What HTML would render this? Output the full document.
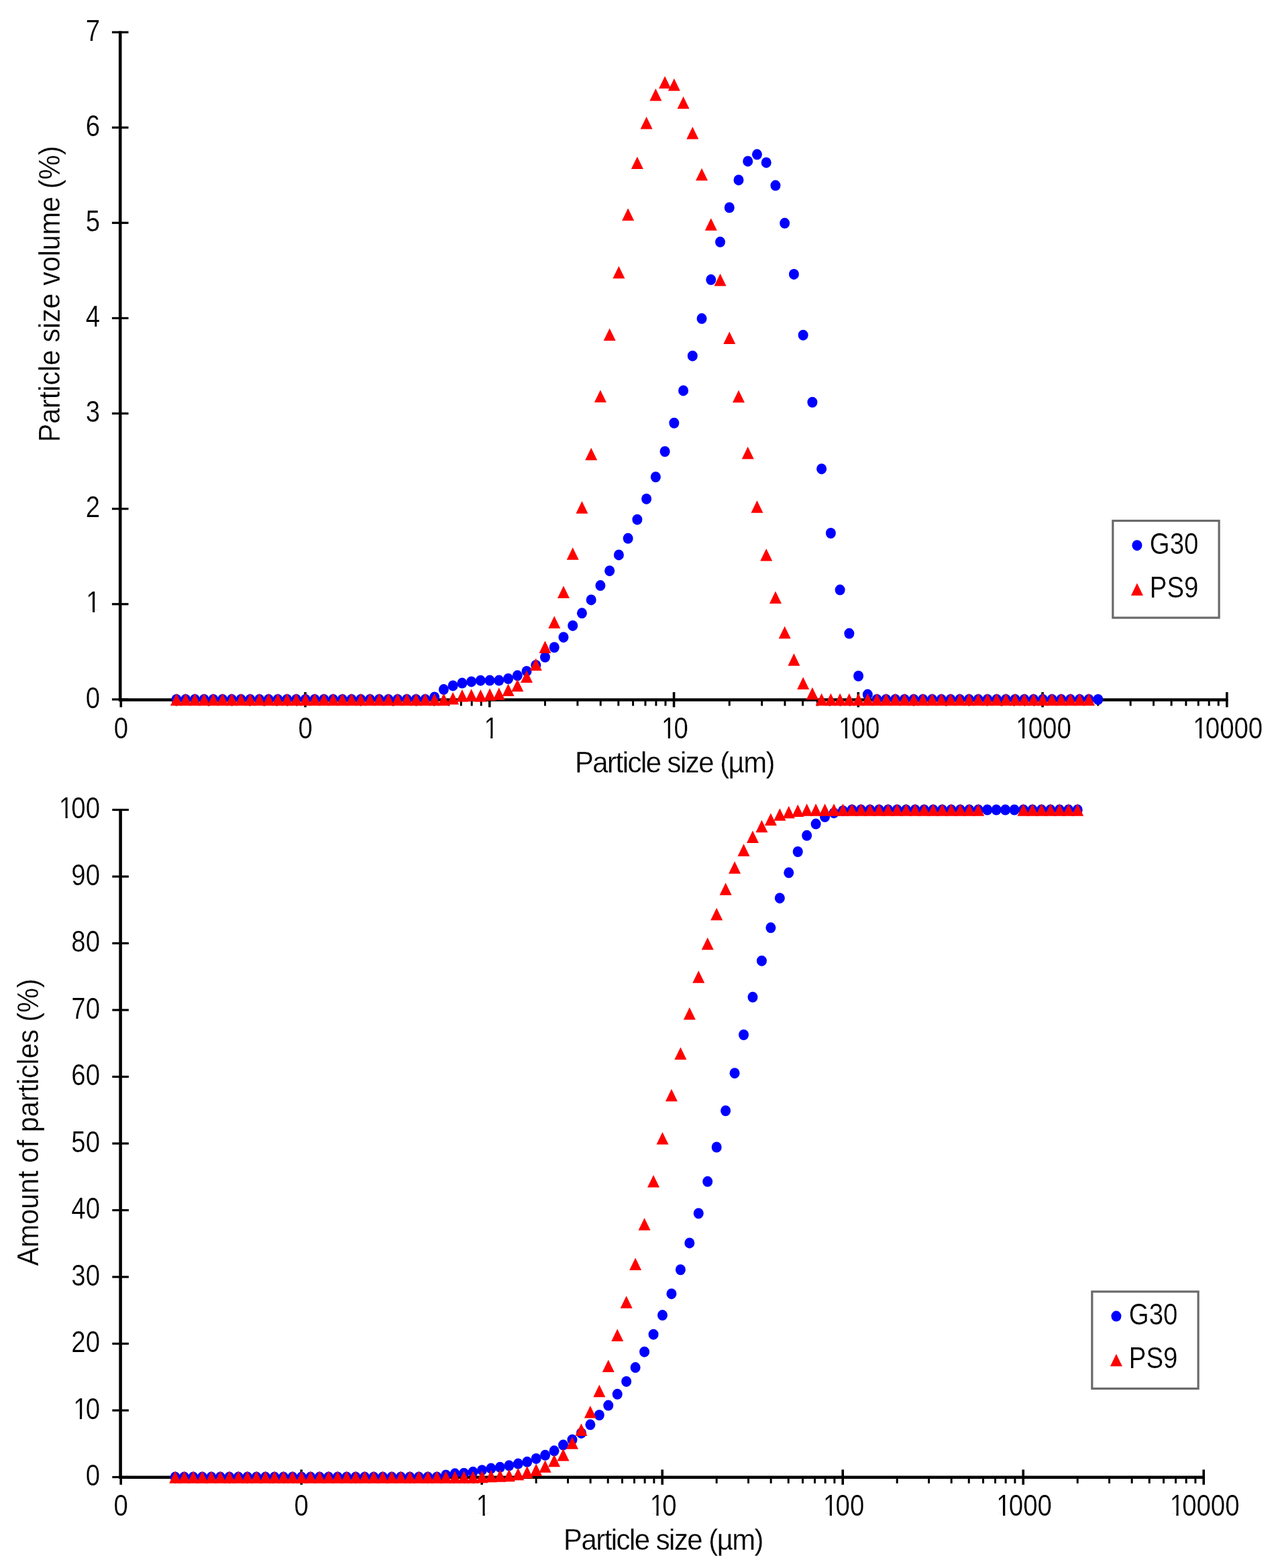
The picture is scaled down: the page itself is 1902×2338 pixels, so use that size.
<!DOCTYPE html><html><head><meta charset="utf-8"><style>html,body{margin:0;padding:0;background:#fff}svg{display:block}</style></head><body>
<svg width="1902" height="2338" viewBox="0 0 1902 2338">
<rect width="1902" height="2338" fill="#fff"/>
<g stroke="#000" fill="none">
<line x1="179.2" y1="46.56" x2="179.2" y2="1045.80" stroke-width="4.6"/>
<line x1="176.89999999999998" y1="1043.5" x2="1830.30" y2="1043.5" stroke-width="4.6"/>
<line x1="166.90" y1="1042.90" x2="191.50" y2="1042.90" stroke-width="3.2"/>
<line x1="166.90" y1="900.78" x2="191.50" y2="900.78" stroke-width="3.2"/>
<line x1="166.90" y1="758.66" x2="191.50" y2="758.66" stroke-width="3.2"/>
<line x1="166.90" y1="616.54" x2="191.50" y2="616.54" stroke-width="3.2"/>
<line x1="166.90" y1="474.42" x2="191.50" y2="474.42" stroke-width="3.2"/>
<line x1="166.90" y1="332.30" x2="191.50" y2="332.30" stroke-width="3.2"/>
<line x1="166.90" y1="190.18" x2="191.50" y2="190.18" stroke-width="3.2"/>
<line x1="166.90" y1="48.06" x2="191.50" y2="48.06" stroke-width="3.2"/>
<line x1="180.30" y1="1043.5" x2="180.30" y2="1054.5" stroke-width="3.6"/>
<line x1="263.01" y1="1043.5" x2="263.01" y2="1052.5" stroke-width="3"/>
<line x1="311.39" y1="1043.5" x2="311.39" y2="1052.5" stroke-width="3"/>
<line x1="345.72" y1="1043.5" x2="345.72" y2="1052.5" stroke-width="3"/>
<line x1="372.34" y1="1043.5" x2="372.34" y2="1052.5" stroke-width="3"/>
<line x1="394.10" y1="1043.5" x2="394.10" y2="1052.5" stroke-width="3"/>
<line x1="412.49" y1="1043.5" x2="412.49" y2="1052.5" stroke-width="3"/>
<line x1="428.42" y1="1043.5" x2="428.42" y2="1052.5" stroke-width="3"/>
<line x1="442.48" y1="1043.5" x2="442.48" y2="1052.5" stroke-width="3"/>
<line x1="455.05" y1="1032.0" x2="455.05" y2="1054.5" stroke-width="3.6"/>
<line x1="537.76" y1="1043.5" x2="537.76" y2="1052.5" stroke-width="3"/>
<line x1="586.14" y1="1043.5" x2="586.14" y2="1052.5" stroke-width="3"/>
<line x1="620.47" y1="1043.5" x2="620.47" y2="1052.5" stroke-width="3"/>
<line x1="647.09" y1="1043.5" x2="647.09" y2="1052.5" stroke-width="3"/>
<line x1="668.85" y1="1043.5" x2="668.85" y2="1052.5" stroke-width="3"/>
<line x1="687.24" y1="1043.5" x2="687.24" y2="1052.5" stroke-width="3"/>
<line x1="703.17" y1="1043.5" x2="703.17" y2="1052.5" stroke-width="3"/>
<line x1="717.23" y1="1043.5" x2="717.23" y2="1052.5" stroke-width="3"/>
<line x1="729.80" y1="1032.0" x2="729.80" y2="1054.5" stroke-width="3.6"/>
<line x1="812.51" y1="1043.5" x2="812.51" y2="1052.5" stroke-width="3"/>
<line x1="860.89" y1="1043.5" x2="860.89" y2="1052.5" stroke-width="3"/>
<line x1="895.22" y1="1043.5" x2="895.22" y2="1052.5" stroke-width="3"/>
<line x1="921.84" y1="1043.5" x2="921.84" y2="1052.5" stroke-width="3"/>
<line x1="943.60" y1="1043.5" x2="943.60" y2="1052.5" stroke-width="3"/>
<line x1="961.99" y1="1043.5" x2="961.99" y2="1052.5" stroke-width="3"/>
<line x1="977.92" y1="1043.5" x2="977.92" y2="1052.5" stroke-width="3"/>
<line x1="991.98" y1="1043.5" x2="991.98" y2="1052.5" stroke-width="3"/>
<line x1="1004.55" y1="1032.0" x2="1004.55" y2="1054.5" stroke-width="3.6"/>
<line x1="1087.26" y1="1043.5" x2="1087.26" y2="1052.5" stroke-width="3"/>
<line x1="1135.64" y1="1043.5" x2="1135.64" y2="1052.5" stroke-width="3"/>
<line x1="1169.97" y1="1043.5" x2="1169.97" y2="1052.5" stroke-width="3"/>
<line x1="1196.59" y1="1043.5" x2="1196.59" y2="1052.5" stroke-width="3"/>
<line x1="1218.35" y1="1043.5" x2="1218.35" y2="1052.5" stroke-width="3"/>
<line x1="1236.74" y1="1043.5" x2="1236.74" y2="1052.5" stroke-width="3"/>
<line x1="1252.67" y1="1043.5" x2="1252.67" y2="1052.5" stroke-width="3"/>
<line x1="1266.73" y1="1043.5" x2="1266.73" y2="1052.5" stroke-width="3"/>
<line x1="1279.30" y1="1032.0" x2="1279.30" y2="1054.5" stroke-width="3.6"/>
<line x1="1362.01" y1="1043.5" x2="1362.01" y2="1052.5" stroke-width="3"/>
<line x1="1410.39" y1="1043.5" x2="1410.39" y2="1052.5" stroke-width="3"/>
<line x1="1444.72" y1="1043.5" x2="1444.72" y2="1052.5" stroke-width="3"/>
<line x1="1471.34" y1="1043.5" x2="1471.34" y2="1052.5" stroke-width="3"/>
<line x1="1493.10" y1="1043.5" x2="1493.10" y2="1052.5" stroke-width="3"/>
<line x1="1511.49" y1="1043.5" x2="1511.49" y2="1052.5" stroke-width="3"/>
<line x1="1527.42" y1="1043.5" x2="1527.42" y2="1052.5" stroke-width="3"/>
<line x1="1541.48" y1="1043.5" x2="1541.48" y2="1052.5" stroke-width="3"/>
<line x1="1554.05" y1="1032.0" x2="1554.05" y2="1054.5" stroke-width="3.6"/>
<line x1="1636.76" y1="1043.5" x2="1636.76" y2="1052.5" stroke-width="3"/>
<line x1="1685.14" y1="1043.5" x2="1685.14" y2="1052.5" stroke-width="3"/>
<line x1="1719.47" y1="1043.5" x2="1719.47" y2="1052.5" stroke-width="3"/>
<line x1="1746.09" y1="1043.5" x2="1746.09" y2="1052.5" stroke-width="3"/>
<line x1="1767.85" y1="1043.5" x2="1767.85" y2="1052.5" stroke-width="3"/>
<line x1="1786.24" y1="1043.5" x2="1786.24" y2="1052.5" stroke-width="3"/>
<line x1="1802.17" y1="1043.5" x2="1802.17" y2="1052.5" stroke-width="3"/>
<line x1="1816.23" y1="1043.5" x2="1816.23" y2="1052.5" stroke-width="3"/>
<line x1="1828.80" y1="1032.0" x2="1828.80" y2="1054.5" stroke-width="3.6"/>
</g>
<g fill="#000" font-family="'Liberation Sans', Arial, sans-serif" stroke="#fff" stroke-width="0.25">
<g transform="translate(149.00,1055.50) scale(0.882,1)">
<text x="0.00" text-anchor="end" font-size="43.5">0</text>
</g>
<g transform="translate(149.00,913.38) scale(0.882,1)">
<text x="0.00" text-anchor="end" font-size="43.5" dx="0.68">1</text>
<rect x="-21.20" y="-3.95" width="8.75" height="5.45" fill="#fff" stroke="none"/>
<rect x="-8.85" y="-3.95" width="8.41" height="5.45" fill="#fff" stroke="none"/>
</g>
<g transform="translate(149.00,771.26) scale(0.882,1)">
<text x="0.00" text-anchor="end" font-size="43.5">2</text>
</g>
<g transform="translate(149.00,629.14) scale(0.882,1)">
<text x="0.00" text-anchor="end" font-size="43.5">3</text>
</g>
<g transform="translate(149.00,487.02) scale(0.882,1)">
<text x="0.00" text-anchor="end" font-size="43.5">4</text>
</g>
<g transform="translate(149.00,344.90) scale(0.882,1)">
<text x="0.00" text-anchor="end" font-size="43.5">5</text>
</g>
<g transform="translate(149.00,202.78) scale(0.882,1)">
<text x="0.00" text-anchor="end" font-size="43.5">6</text>
</g>
<g transform="translate(149.00,60.66) scale(0.882,1)">
<text x="0.00" text-anchor="end" font-size="43.5">7</text>
</g>
<g transform="translate(180.30,1101.10) scale(0.882,1)">
<text x="0.00" text-anchor="middle" font-size="43.5">0</text>
</g>
<g transform="translate(455.05,1101.10) scale(0.882,1)">
<text x="0.00" text-anchor="middle" font-size="43.5">0</text>
</g>
<g transform="translate(729.80,1101.10) scale(0.882,1)">
<text x="0.00" text-anchor="middle" font-size="43.5" dx="2.61">1</text>
<rect x="-7.18" y="-3.95" width="8.75" height="5.45" fill="#fff" stroke="none"/>
<rect x="5.17" y="-3.95" width="8.41" height="5.45" fill="#fff" stroke="none"/>
</g>
<g transform="translate(1004.55,1101.10) scale(0.882,1)">
<text x="-1.59" text-anchor="middle" font-size="43.5" dx="3.17 -3.17">10</text>
<rect x="-18.70" y="-3.95" width="8.75" height="5.45" fill="#fff" stroke="none"/>
<rect x="-6.36" y="-3.95" width="8.41" height="5.45" fill="#fff" stroke="none"/>
</g>
<g transform="translate(1279.30,1101.10) scale(0.882,1)">
<text x="-1.59" text-anchor="middle" font-size="43.5" dx="3.17 -3.17">100</text>
<rect x="-30.80" y="-3.95" width="8.75" height="5.45" fill="#fff" stroke="none"/>
<rect x="-18.46" y="-3.95" width="8.41" height="5.45" fill="#fff" stroke="none"/>
</g>
<g transform="translate(1554.05,1101.10) scale(0.882,1)">
<text x="-1.59" text-anchor="middle" font-size="43.5" dx="3.17 -3.17">1000</text>
<rect x="-42.90" y="-3.95" width="8.75" height="5.45" fill="#fff" stroke="none"/>
<rect x="-30.55" y="-3.95" width="8.41" height="5.45" fill="#fff" stroke="none"/>
</g>
<g transform="translate(1828.80,1101.10) scale(0.882,1)">
<text x="-1.59" text-anchor="middle" font-size="43.5" dx="3.17 -3.17">10000</text>
<rect x="-54.99" y="-3.95" width="8.75" height="5.45" fill="#fff" stroke="none"/>
<rect x="-42.65" y="-3.95" width="8.41" height="5.45" fill="#fff" stroke="none"/>
</g>
<g transform="translate(1005.45,1151.80) scale(0.962,1)">
<text x="0.00" text-anchor="middle" font-size="43.5" letter-spacing="-1.556">Particle size (µm)</text>
</g>
<text transform="translate(89.20,438.40) rotate(-90) scale(0.947,1)" text-anchor="middle" font-size="43.5">Particle size volume (%)</text>
</g>
<g fill="#0000ff">
<ellipse cx="263.01" cy="1043.00" rx="7.5" ry="8.0"/>
<ellipse cx="276.75" cy="1043.00" rx="7.5" ry="8.0"/>
<ellipse cx="290.48" cy="1043.00" rx="7.5" ry="8.0"/>
<ellipse cx="304.22" cy="1043.00" rx="7.5" ry="8.0"/>
<ellipse cx="317.96" cy="1043.00" rx="7.5" ry="8.0"/>
<ellipse cx="331.70" cy="1043.00" rx="7.5" ry="8.0"/>
<ellipse cx="345.43" cy="1043.00" rx="7.5" ry="8.0"/>
<ellipse cx="359.17" cy="1043.00" rx="7.5" ry="8.0"/>
<ellipse cx="372.91" cy="1043.00" rx="7.5" ry="8.0"/>
<ellipse cx="386.65" cy="1043.00" rx="7.5" ry="8.0"/>
<ellipse cx="400.38" cy="1043.00" rx="7.5" ry="8.0"/>
<ellipse cx="414.12" cy="1043.00" rx="7.5" ry="8.0"/>
<ellipse cx="427.86" cy="1043.00" rx="7.5" ry="8.0"/>
<ellipse cx="441.60" cy="1043.00" rx="7.5" ry="8.0"/>
<ellipse cx="455.33" cy="1043.00" rx="7.5" ry="8.0"/>
<ellipse cx="469.07" cy="1043.00" rx="7.5" ry="8.0"/>
<ellipse cx="482.81" cy="1043.00" rx="7.5" ry="8.0"/>
<ellipse cx="496.55" cy="1043.00" rx="7.5" ry="8.0"/>
<ellipse cx="510.28" cy="1043.00" rx="7.5" ry="8.0"/>
<ellipse cx="524.02" cy="1043.00" rx="7.5" ry="8.0"/>
<ellipse cx="537.76" cy="1043.00" rx="7.5" ry="8.0"/>
<ellipse cx="551.50" cy="1043.00" rx="7.5" ry="8.0"/>
<ellipse cx="565.23" cy="1043.00" rx="7.5" ry="8.0"/>
<ellipse cx="578.97" cy="1043.00" rx="7.5" ry="8.0"/>
<ellipse cx="592.71" cy="1043.00" rx="7.5" ry="8.0"/>
<ellipse cx="606.45" cy="1043.00" rx="7.5" ry="8.0"/>
<ellipse cx="620.18" cy="1043.00" rx="7.5" ry="8.0"/>
<ellipse cx="633.92" cy="1043.00" rx="7.5" ry="8.0"/>
<ellipse cx="647.66" cy="1039.44" rx="7.5" ry="8.0"/>
<ellipse cx="661.40" cy="1028.07" rx="7.5" ry="8.0"/>
<ellipse cx="675.13" cy="1022.38" rx="7.5" ry="8.0"/>
<ellipse cx="688.87" cy="1018.54" rx="7.5" ry="8.0"/>
<ellipse cx="702.61" cy="1016.41" rx="7.5" ry="8.0"/>
<ellipse cx="716.35" cy="1014.70" rx="7.5" ry="8.0"/>
<ellipse cx="730.08" cy="1014.56" rx="7.5" ry="8.0"/>
<ellipse cx="743.82" cy="1014.56" rx="7.5" ry="8.0"/>
<ellipse cx="757.56" cy="1012.00" rx="7.5" ry="8.0"/>
<ellipse cx="771.30" cy="1007.31" rx="7.5" ry="8.0"/>
<ellipse cx="785.03" cy="1000.91" rx="7.5" ry="8.0"/>
<ellipse cx="798.77" cy="991.95" rx="7.5" ry="8.0"/>
<ellipse cx="812.51" cy="979.86" rx="7.5" ry="8.0"/>
<ellipse cx="826.25" cy="965.22" rx="7.5" ry="8.0"/>
<ellipse cx="839.98" cy="950.14" rx="7.5" ry="8.0"/>
<ellipse cx="853.72" cy="932.94" rx="7.5" ry="8.0"/>
<ellipse cx="867.46" cy="914.31" rx="7.5" ry="8.0"/>
<ellipse cx="881.20" cy="894.40" rx="7.5" ry="8.0"/>
<ellipse cx="894.93" cy="873.07" rx="7.5" ry="8.0"/>
<ellipse cx="908.67" cy="851.17" rx="7.5" ry="8.0"/>
<ellipse cx="922.41" cy="827.42" rx="7.5" ry="8.0"/>
<ellipse cx="936.15" cy="802.82" rx="7.5" ry="8.0"/>
<ellipse cx="949.88" cy="774.67" rx="7.5" ry="8.0"/>
<ellipse cx="963.62" cy="743.95" rx="7.5" ry="8.0"/>
<ellipse cx="977.36" cy="711.25" rx="7.5" ry="8.0"/>
<ellipse cx="991.10" cy="673.28" rx="7.5" ry="8.0"/>
<ellipse cx="1004.83" cy="630.76" rx="7.5" ry="8.0"/>
<ellipse cx="1018.57" cy="582.41" rx="7.5" ry="8.0"/>
<ellipse cx="1032.31" cy="530.65" rx="7.5" ry="8.0"/>
<ellipse cx="1046.05" cy="475.05" rx="7.5" ry="8.0"/>
<ellipse cx="1059.78" cy="417.04" rx="7.5" ry="8.0"/>
<ellipse cx="1073.52" cy="360.87" rx="7.5" ry="8.0"/>
<ellipse cx="1087.26" cy="309.53" rx="7.5" ry="8.0"/>
<ellipse cx="1101.00" cy="268.44" rx="7.5" ry="8.0"/>
<ellipse cx="1114.73" cy="240.42" rx="7.5" ry="8.0"/>
<ellipse cx="1128.47" cy="230.33" rx="7.5" ry="8.0"/>
<ellipse cx="1142.21" cy="242.41" rx="7.5" ry="8.0"/>
<ellipse cx="1155.95" cy="276.54" rx="7.5" ry="8.0"/>
<ellipse cx="1169.68" cy="332.85" rx="7.5" ry="8.0"/>
<ellipse cx="1183.42" cy="408.93" rx="7.5" ry="8.0"/>
<ellipse cx="1197.16" cy="499.65" rx="7.5" ry="8.0"/>
<ellipse cx="1210.90" cy="599.76" rx="7.5" ry="8.0"/>
<ellipse cx="1224.63" cy="699.16" rx="7.5" ry="8.0"/>
<ellipse cx="1238.37" cy="795.00" rx="7.5" ry="8.0"/>
<ellipse cx="1252.11" cy="879.61" rx="7.5" ry="8.0"/>
<ellipse cx="1265.85" cy="944.60" rx="7.5" ry="8.0"/>
<ellipse cx="1279.58" cy="1008.02" rx="7.5" ry="8.0"/>
<ellipse cx="1293.32" cy="1035.61" rx="7.5" ry="8.0"/>
<ellipse cx="1307.06" cy="1043.00" rx="7.5" ry="8.0"/>
<ellipse cx="1320.80" cy="1043.00" rx="7.5" ry="8.0"/>
<ellipse cx="1334.53" cy="1043.00" rx="7.5" ry="8.0"/>
<ellipse cx="1348.27" cy="1043.00" rx="7.5" ry="8.0"/>
<ellipse cx="1362.01" cy="1043.00" rx="7.5" ry="8.0"/>
<ellipse cx="1375.75" cy="1043.00" rx="7.5" ry="8.0"/>
<ellipse cx="1389.48" cy="1043.00" rx="7.5" ry="8.0"/>
<ellipse cx="1403.22" cy="1043.00" rx="7.5" ry="8.0"/>
<ellipse cx="1416.96" cy="1043.00" rx="7.5" ry="8.0"/>
<ellipse cx="1430.70" cy="1043.00" rx="7.5" ry="8.0"/>
<ellipse cx="1444.43" cy="1043.00" rx="7.5" ry="8.0"/>
<ellipse cx="1458.17" cy="1043.00" rx="7.5" ry="8.0"/>
<ellipse cx="1471.91" cy="1043.00" rx="7.5" ry="8.0"/>
<ellipse cx="1485.65" cy="1043.00" rx="7.5" ry="8.0"/>
<ellipse cx="1499.38" cy="1043.00" rx="7.5" ry="8.0"/>
<ellipse cx="1513.12" cy="1043.00" rx="7.5" ry="8.0"/>
<ellipse cx="1526.86" cy="1043.00" rx="7.5" ry="8.0"/>
<ellipse cx="1540.60" cy="1043.00" rx="7.5" ry="8.0"/>
<ellipse cx="1554.33" cy="1043.00" rx="7.5" ry="8.0"/>
<ellipse cx="1568.07" cy="1043.00" rx="7.5" ry="8.0"/>
<ellipse cx="1581.81" cy="1043.00" rx="7.5" ry="8.0"/>
<ellipse cx="1595.55" cy="1043.00" rx="7.5" ry="8.0"/>
<ellipse cx="1609.28" cy="1043.00" rx="7.5" ry="8.0"/>
<ellipse cx="1623.02" cy="1043.00" rx="7.5" ry="8.0"/>
<ellipse cx="1636.76" cy="1043.00" rx="7.5" ry="8.0"/>
</g>
<g fill="#ff0000">
<path d="M254.01 1052.25L263.01 1033.75L272.01 1052.25Z"/>
<path d="M267.75 1052.25L276.75 1033.75L285.75 1052.25Z"/>
<path d="M281.48 1052.25L290.48 1033.75L299.48 1052.25Z"/>
<path d="M295.22 1052.25L304.22 1033.75L313.22 1052.25Z"/>
<path d="M308.96 1052.25L317.96 1033.75L326.96 1052.25Z"/>
<path d="M322.70 1052.25L331.70 1033.75L340.70 1052.25Z"/>
<path d="M336.43 1052.25L345.43 1033.75L354.43 1052.25Z"/>
<path d="M350.17 1052.25L359.17 1033.75L368.17 1052.25Z"/>
<path d="M363.91 1052.25L372.91 1033.75L381.91 1052.25Z"/>
<path d="M377.65 1052.25L386.65 1033.75L395.65 1052.25Z"/>
<path d="M391.38 1052.25L400.38 1033.75L409.38 1052.25Z"/>
<path d="M405.12 1052.25L414.12 1033.75L423.12 1052.25Z"/>
<path d="M418.86 1052.25L427.86 1033.75L436.86 1052.25Z"/>
<path d="M432.60 1052.25L441.60 1033.75L450.60 1052.25Z"/>
<path d="M446.33 1052.25L455.33 1033.75L464.33 1052.25Z"/>
<path d="M460.07 1052.25L469.07 1033.75L478.07 1052.25Z"/>
<path d="M473.81 1052.25L482.81 1033.75L491.81 1052.25Z"/>
<path d="M487.55 1052.25L496.55 1033.75L505.55 1052.25Z"/>
<path d="M501.28 1052.25L510.28 1033.75L519.28 1052.25Z"/>
<path d="M515.02 1052.25L524.02 1033.75L533.02 1052.25Z"/>
<path d="M528.76 1052.25L537.76 1033.75L546.76 1052.25Z"/>
<path d="M542.50 1052.25L551.50 1033.75L560.50 1052.25Z"/>
<path d="M556.23 1052.25L565.23 1033.75L574.23 1052.25Z"/>
<path d="M569.97 1052.25L578.97 1033.75L587.97 1052.25Z"/>
<path d="M583.71 1052.25L592.71 1033.75L601.71 1052.25Z"/>
<path d="M597.45 1052.25L606.45 1033.75L615.45 1052.25Z"/>
<path d="M611.18 1052.25L620.18 1033.75L629.18 1052.25Z"/>
<path d="M624.92 1052.25L633.92 1033.75L642.92 1052.25Z"/>
<path d="M638.66 1052.25L647.66 1033.75L656.66 1052.25Z"/>
<path d="M652.40 1052.25L661.40 1033.75L670.40 1052.25Z"/>
<path d="M666.13 1050.40L675.13 1031.90L684.13 1050.40Z"/>
<path d="M679.87 1046.56L688.87 1028.06L697.87 1046.56Z"/>
<path d="M693.61 1045.71L702.61 1027.21L711.61 1045.71Z"/>
<path d="M707.35 1046.56L716.35 1028.06L725.35 1046.56Z"/>
<path d="M721.08 1044.86L730.08 1026.36L739.08 1044.86Z"/>
<path d="M734.82 1043.72L743.82 1025.22L752.82 1043.72Z"/>
<path d="M748.56 1038.03L757.56 1019.53L766.56 1038.03Z"/>
<path d="M762.30 1031.35L771.30 1012.85L780.30 1031.35Z"/>
<path d="M776.03 1018.12L785.03 999.62L794.03 1018.12Z"/>
<path d="M789.77 999.92L798.77 981.42L807.77 999.92Z"/>
<path d="M803.51 974.04L812.51 955.54L821.51 974.04Z"/>
<path d="M817.25 937.07L826.25 918.57L835.25 937.07Z"/>
<path d="M830.98 891.99L839.98 873.49L848.98 891.99Z"/>
<path d="M844.72 834.83L853.72 816.33L862.72 834.83Z"/>
<path d="M858.46 765.72L867.46 747.22L876.46 765.72Z"/>
<path d="M872.20 686.23L881.20 667.73L890.20 686.23Z"/>
<path d="M885.93 599.91L894.93 581.41L903.93 599.91Z"/>
<path d="M899.67 507.91L908.67 489.41L917.67 507.91Z"/>
<path d="M913.41 415.34L922.41 396.84L931.41 415.34Z"/>
<path d="M927.15 329.02L936.15 310.52L945.15 329.02Z"/>
<path d="M940.88 252.09L949.88 233.59L958.88 252.09Z"/>
<path d="M954.62 192.51L963.62 174.01L972.62 192.51Z"/>
<path d="M968.36 150.56L977.36 132.06L986.36 150.56Z"/>
<path d="M982.10 131.93L991.10 113.43L1000.10 131.93Z"/>
<path d="M995.83 135.49L1004.83 116.99L1013.83 135.49Z"/>
<path d="M1009.57 162.36L1018.57 143.86L1027.57 162.36Z"/>
<path d="M1023.31 207.58L1032.31 189.08L1041.31 207.58Z"/>
<path d="M1037.05 269.30L1046.05 250.80L1055.05 269.30Z"/>
<path d="M1050.78 343.67L1059.78 325.17L1068.78 343.67Z"/>
<path d="M1064.52 426.57L1073.52 408.07L1082.52 426.57Z"/>
<path d="M1078.26 513.03L1087.26 494.53L1096.26 513.03Z"/>
<path d="M1092.00 600.34L1101.00 581.84L1110.00 600.34Z"/>
<path d="M1105.73 684.38L1114.73 665.88L1123.73 684.38Z"/>
<path d="M1119.47 764.72L1128.47 746.22L1137.47 764.72Z"/>
<path d="M1133.21 836.39L1142.21 817.89L1151.21 836.39Z"/>
<path d="M1146.95 899.95L1155.95 881.45L1164.95 899.95Z"/>
<path d="M1160.68 952.14L1169.68 933.64L1178.68 952.14Z"/>
<path d="M1174.42 992.81L1183.42 974.31L1192.42 992.81Z"/>
<path d="M1188.16 1027.93L1197.16 1009.43L1206.16 1027.93Z"/>
<path d="M1201.90 1043.29L1210.90 1024.79L1219.90 1043.29Z"/>
<path d="M1215.63 1052.25L1224.63 1033.75L1233.63 1052.25Z"/>
<path d="M1229.37 1052.25L1238.37 1033.75L1247.37 1052.25Z"/>
<path d="M1243.11 1052.25L1252.11 1033.75L1261.11 1052.25Z"/>
<path d="M1256.85 1052.25L1265.85 1033.75L1274.85 1052.25Z"/>
<path d="M1270.58 1052.25L1279.58 1033.75L1288.58 1052.25Z"/>
<path d="M1284.32 1052.25L1293.32 1033.75L1302.32 1052.25Z"/>
<path d="M1298.06 1052.25L1307.06 1033.75L1316.06 1052.25Z"/>
<path d="M1311.80 1052.25L1320.80 1033.75L1329.80 1052.25Z"/>
<path d="M1325.53 1052.25L1334.53 1033.75L1343.53 1052.25Z"/>
<path d="M1339.27 1052.25L1348.27 1033.75L1357.27 1052.25Z"/>
<path d="M1353.01 1052.25L1362.01 1033.75L1371.01 1052.25Z"/>
<path d="M1366.75 1052.25L1375.75 1033.75L1384.75 1052.25Z"/>
<path d="M1380.48 1052.25L1389.48 1033.75L1398.48 1052.25Z"/>
<path d="M1394.22 1052.25L1403.22 1033.75L1412.22 1052.25Z"/>
<path d="M1407.96 1052.25L1416.96 1033.75L1425.96 1052.25Z"/>
<path d="M1421.70 1052.25L1430.70 1033.75L1439.70 1052.25Z"/>
<path d="M1435.43 1052.25L1444.43 1033.75L1453.43 1052.25Z"/>
<path d="M1449.17 1052.25L1458.17 1033.75L1467.17 1052.25Z"/>
<path d="M1462.91 1052.25L1471.91 1033.75L1480.91 1052.25Z"/>
<path d="M1476.65 1052.25L1485.65 1033.75L1494.65 1052.25Z"/>
<path d="M1490.38 1052.25L1499.38 1033.75L1508.38 1052.25Z"/>
<path d="M1504.12 1052.25L1513.12 1033.75L1522.12 1052.25Z"/>
<path d="M1517.86 1052.25L1526.86 1033.75L1535.86 1052.25Z"/>
<path d="M1531.60 1052.25L1540.60 1033.75L1549.60 1052.25Z"/>
<path d="M1545.33 1052.25L1554.33 1033.75L1563.33 1052.25Z"/>
<path d="M1559.07 1052.25L1568.07 1033.75L1577.07 1052.25Z"/>
<path d="M1572.81 1052.25L1581.81 1033.75L1590.81 1052.25Z"/>
<path d="M1586.55 1052.25L1595.55 1033.75L1604.55 1052.25Z"/>
<path d="M1600.28 1052.25L1609.28 1033.75L1618.28 1052.25Z"/>
<path d="M1614.02 1052.25L1623.02 1033.75L1632.02 1052.25Z"/>
</g>
<rect x="1658.80" y="776.50" width="158.3" height="144.6" fill="#fff" stroke="#6a6a6a" stroke-width="3.2"/>
<ellipse cx="1694.90" cy="813.20" rx="7.5" ry="8.0" fill="#0000ff"/>
<path d="M1685.90 887.95L1694.90 869.45L1703.90 887.95Z" fill="#ff0000"/>
<g fill="#000" font-family="'Liberation Sans', Arial, sans-serif" stroke="#fff" stroke-width="0.25">
<g transform="translate(1713.80,825.50) scale(0.882,1)">
<text x="0.00" text-anchor="start" font-size="43.5">G30</text>
</g>
<g transform="translate(1713.80,890.70) scale(0.882,1)">
<text x="0.00" text-anchor="start" font-size="43.5">PS9</text>
</g>
</g>
<g stroke="#000" fill="none">
<line x1="179.6" y1="1206.00" x2="179.6" y2="2205.10" stroke-width="4.6"/>
<line x1="177.29999999999998" y1="2202.8" x2="1795.70" y2="2202.8" stroke-width="4.6"/>
<line x1="167.30" y1="2202.50" x2="191.90" y2="2202.50" stroke-width="3.2"/>
<line x1="167.30" y1="2103.00" x2="191.90" y2="2103.00" stroke-width="3.2"/>
<line x1="167.30" y1="2003.50" x2="191.90" y2="2003.50" stroke-width="3.2"/>
<line x1="167.30" y1="1904.00" x2="191.90" y2="1904.00" stroke-width="3.2"/>
<line x1="167.30" y1="1804.50" x2="191.90" y2="1804.50" stroke-width="3.2"/>
<line x1="167.30" y1="1705.00" x2="191.90" y2="1705.00" stroke-width="3.2"/>
<line x1="167.30" y1="1605.50" x2="191.90" y2="1605.50" stroke-width="3.2"/>
<line x1="167.30" y1="1506.00" x2="191.90" y2="1506.00" stroke-width="3.2"/>
<line x1="167.30" y1="1406.50" x2="191.90" y2="1406.50" stroke-width="3.2"/>
<line x1="167.30" y1="1307.00" x2="191.90" y2="1307.00" stroke-width="3.2"/>
<line x1="167.30" y1="1207.50" x2="191.90" y2="1207.50" stroke-width="3.2"/>
<line x1="180.20" y1="2202.8" x2="180.20" y2="2213.8" stroke-width="3.6"/>
<line x1="261.18" y1="2202.8" x2="261.18" y2="2211.8" stroke-width="3"/>
<line x1="308.55" y1="2202.8" x2="308.55" y2="2211.8" stroke-width="3"/>
<line x1="342.15" y1="2202.8" x2="342.15" y2="2211.8" stroke-width="3"/>
<line x1="368.22" y1="2202.8" x2="368.22" y2="2211.8" stroke-width="3"/>
<line x1="389.52" y1="2202.8" x2="389.52" y2="2211.8" stroke-width="3"/>
<line x1="407.53" y1="2202.8" x2="407.53" y2="2211.8" stroke-width="3"/>
<line x1="423.13" y1="2202.8" x2="423.13" y2="2211.8" stroke-width="3"/>
<line x1="436.89" y1="2202.8" x2="436.89" y2="2211.8" stroke-width="3"/>
<line x1="449.20" y1="2191.3" x2="449.20" y2="2213.8" stroke-width="3.6"/>
<line x1="530.18" y1="2202.8" x2="530.18" y2="2211.8" stroke-width="3"/>
<line x1="577.55" y1="2202.8" x2="577.55" y2="2211.8" stroke-width="3"/>
<line x1="611.15" y1="2202.8" x2="611.15" y2="2211.8" stroke-width="3"/>
<line x1="637.22" y1="2202.8" x2="637.22" y2="2211.8" stroke-width="3"/>
<line x1="658.52" y1="2202.8" x2="658.52" y2="2211.8" stroke-width="3"/>
<line x1="676.53" y1="2202.8" x2="676.53" y2="2211.8" stroke-width="3"/>
<line x1="692.13" y1="2202.8" x2="692.13" y2="2211.8" stroke-width="3"/>
<line x1="705.89" y1="2202.8" x2="705.89" y2="2211.8" stroke-width="3"/>
<line x1="718.20" y1="2191.3" x2="718.20" y2="2213.8" stroke-width="3.6"/>
<line x1="799.18" y1="2202.8" x2="799.18" y2="2211.8" stroke-width="3"/>
<line x1="846.55" y1="2202.8" x2="846.55" y2="2211.8" stroke-width="3"/>
<line x1="880.15" y1="2202.8" x2="880.15" y2="2211.8" stroke-width="3"/>
<line x1="906.22" y1="2202.8" x2="906.22" y2="2211.8" stroke-width="3"/>
<line x1="927.52" y1="2202.8" x2="927.52" y2="2211.8" stroke-width="3"/>
<line x1="945.53" y1="2202.8" x2="945.53" y2="2211.8" stroke-width="3"/>
<line x1="961.13" y1="2202.8" x2="961.13" y2="2211.8" stroke-width="3"/>
<line x1="974.89" y1="2202.8" x2="974.89" y2="2211.8" stroke-width="3"/>
<line x1="987.20" y1="2191.3" x2="987.20" y2="2213.8" stroke-width="3.6"/>
<line x1="1068.18" y1="2202.8" x2="1068.18" y2="2211.8" stroke-width="3"/>
<line x1="1115.55" y1="2202.8" x2="1115.55" y2="2211.8" stroke-width="3"/>
<line x1="1149.15" y1="2202.8" x2="1149.15" y2="2211.8" stroke-width="3"/>
<line x1="1175.22" y1="2202.8" x2="1175.22" y2="2211.8" stroke-width="3"/>
<line x1="1196.52" y1="2202.8" x2="1196.52" y2="2211.8" stroke-width="3"/>
<line x1="1214.53" y1="2202.8" x2="1214.53" y2="2211.8" stroke-width="3"/>
<line x1="1230.13" y1="2202.8" x2="1230.13" y2="2211.8" stroke-width="3"/>
<line x1="1243.89" y1="2202.8" x2="1243.89" y2="2211.8" stroke-width="3"/>
<line x1="1256.20" y1="2191.3" x2="1256.20" y2="2213.8" stroke-width="3.6"/>
<line x1="1337.18" y1="2202.8" x2="1337.18" y2="2211.8" stroke-width="3"/>
<line x1="1384.55" y1="2202.8" x2="1384.55" y2="2211.8" stroke-width="3"/>
<line x1="1418.15" y1="2202.8" x2="1418.15" y2="2211.8" stroke-width="3"/>
<line x1="1444.22" y1="2202.8" x2="1444.22" y2="2211.8" stroke-width="3"/>
<line x1="1465.52" y1="2202.8" x2="1465.52" y2="2211.8" stroke-width="3"/>
<line x1="1483.53" y1="2202.8" x2="1483.53" y2="2211.8" stroke-width="3"/>
<line x1="1499.13" y1="2202.8" x2="1499.13" y2="2211.8" stroke-width="3"/>
<line x1="1512.89" y1="2202.8" x2="1512.89" y2="2211.8" stroke-width="3"/>
<line x1="1525.20" y1="2191.3" x2="1525.20" y2="2213.8" stroke-width="3.6"/>
<line x1="1606.18" y1="2202.8" x2="1606.18" y2="2211.8" stroke-width="3"/>
<line x1="1653.55" y1="2202.8" x2="1653.55" y2="2211.8" stroke-width="3"/>
<line x1="1687.15" y1="2202.8" x2="1687.15" y2="2211.8" stroke-width="3"/>
<line x1="1713.22" y1="2202.8" x2="1713.22" y2="2211.8" stroke-width="3"/>
<line x1="1734.52" y1="2202.8" x2="1734.52" y2="2211.8" stroke-width="3"/>
<line x1="1752.53" y1="2202.8" x2="1752.53" y2="2211.8" stroke-width="3"/>
<line x1="1768.13" y1="2202.8" x2="1768.13" y2="2211.8" stroke-width="3"/>
<line x1="1781.89" y1="2202.8" x2="1781.89" y2="2211.8" stroke-width="3"/>
<line x1="1794.20" y1="2191.3" x2="1794.20" y2="2213.8" stroke-width="3.6"/>
</g>
<g fill="#000" font-family="'Liberation Sans', Arial, sans-serif" stroke="#fff" stroke-width="0.25">
<g transform="translate(149.00,2215.10) scale(0.882,1)">
<text x="0.00" text-anchor="end" font-size="43.5">0</text>
</g>
<g transform="translate(149.00,2115.60) scale(0.882,1)">
<text x="-3.17" text-anchor="end" font-size="43.5" dx="3.17 -3.17">10</text>
<rect x="-42.90" y="-3.95" width="8.75" height="5.45" fill="#fff" stroke="none"/>
<rect x="-30.55" y="-3.95" width="8.41" height="5.45" fill="#fff" stroke="none"/>
</g>
<g transform="translate(149.00,2016.10) scale(0.882,1)">
<text x="0.00" text-anchor="end" font-size="43.5">20</text>
</g>
<g transform="translate(149.00,1916.60) scale(0.882,1)">
<text x="0.00" text-anchor="end" font-size="43.5">30</text>
</g>
<g transform="translate(149.00,1817.10) scale(0.882,1)">
<text x="0.00" text-anchor="end" font-size="43.5">40</text>
</g>
<g transform="translate(149.00,1717.60) scale(0.882,1)">
<text x="0.00" text-anchor="end" font-size="43.5">50</text>
</g>
<g transform="translate(149.00,1618.10) scale(0.882,1)">
<text x="0.00" text-anchor="end" font-size="43.5">60</text>
</g>
<g transform="translate(149.00,1518.60) scale(0.882,1)">
<text x="0.00" text-anchor="end" font-size="43.5">70</text>
</g>
<g transform="translate(149.00,1419.10) scale(0.882,1)">
<text x="0.00" text-anchor="end" font-size="43.5">80</text>
</g>
<g transform="translate(149.00,1319.60) scale(0.882,1)">
<text x="0.00" text-anchor="end" font-size="43.5">90</text>
</g>
<g transform="translate(149.00,1220.10) scale(0.882,1)">
<text x="-3.17" text-anchor="end" font-size="43.5" dx="3.17 -3.17">100</text>
<rect x="-67.09" y="-3.95" width="8.75" height="5.45" fill="#fff" stroke="none"/>
<rect x="-54.75" y="-3.95" width="8.41" height="5.45" fill="#fff" stroke="none"/>
</g>
<g transform="translate(180.20,2260.40) scale(0.882,1)">
<text x="0.00" text-anchor="middle" font-size="43.5">0</text>
</g>
<g transform="translate(449.20,2260.40) scale(0.882,1)">
<text x="0.00" text-anchor="middle" font-size="43.5">0</text>
</g>
<g transform="translate(718.20,2260.40) scale(0.882,1)">
<text x="0.00" text-anchor="middle" font-size="43.5" dx="2.61">1</text>
<rect x="-7.18" y="-3.95" width="8.75" height="5.45" fill="#fff" stroke="none"/>
<rect x="5.17" y="-3.95" width="8.41" height="5.45" fill="#fff" stroke="none"/>
</g>
<g transform="translate(987.20,2260.40) scale(0.882,1)">
<text x="-1.59" text-anchor="middle" font-size="43.5" dx="3.17 -3.17">10</text>
<rect x="-18.70" y="-3.95" width="8.75" height="5.45" fill="#fff" stroke="none"/>
<rect x="-6.36" y="-3.95" width="8.41" height="5.45" fill="#fff" stroke="none"/>
</g>
<g transform="translate(1256.20,2260.40) scale(0.882,1)">
<text x="-1.59" text-anchor="middle" font-size="43.5" dx="3.17 -3.17">100</text>
<rect x="-30.80" y="-3.95" width="8.75" height="5.45" fill="#fff" stroke="none"/>
<rect x="-18.46" y="-3.95" width="8.41" height="5.45" fill="#fff" stroke="none"/>
</g>
<g transform="translate(1525.20,2260.40) scale(0.882,1)">
<text x="-1.59" text-anchor="middle" font-size="43.5" dx="3.17 -3.17">1000</text>
<rect x="-42.90" y="-3.95" width="8.75" height="5.45" fill="#fff" stroke="none"/>
<rect x="-30.55" y="-3.95" width="8.41" height="5.45" fill="#fff" stroke="none"/>
</g>
<g transform="translate(1794.20,2260.40) scale(0.882,1)">
<text x="-1.59" text-anchor="middle" font-size="43.5" dx="3.17 -3.17">10000</text>
<rect x="-54.99" y="-3.95" width="8.75" height="5.45" fill="#fff" stroke="none"/>
<rect x="-42.65" y="-3.95" width="8.41" height="5.45" fill="#fff" stroke="none"/>
</g>
<g transform="translate(988.55,2311.10) scale(0.962,1)">
<text x="0.00" text-anchor="middle" font-size="43.5" letter-spacing="-1.556">Particle size (µm)</text>
</g>
<text transform="translate(57.30,1673.40) rotate(-90) scale(0.947,1)" text-anchor="middle" font-size="43.5">Amount of particles (%)</text>
</g>
<g fill="#0000ff">
<ellipse cx="261.18" cy="2202.50" rx="7.5" ry="8.0"/>
<ellipse cx="274.63" cy="2202.50" rx="7.5" ry="8.0"/>
<ellipse cx="288.08" cy="2202.50" rx="7.5" ry="8.0"/>
<ellipse cx="301.53" cy="2202.50" rx="7.5" ry="8.0"/>
<ellipse cx="314.98" cy="2202.50" rx="7.5" ry="8.0"/>
<ellipse cx="328.43" cy="2202.50" rx="7.5" ry="8.0"/>
<ellipse cx="341.88" cy="2202.50" rx="7.5" ry="8.0"/>
<ellipse cx="355.33" cy="2202.50" rx="7.5" ry="8.0"/>
<ellipse cx="368.78" cy="2202.50" rx="7.5" ry="8.0"/>
<ellipse cx="382.23" cy="2202.50" rx="7.5" ry="8.0"/>
<ellipse cx="395.68" cy="2202.50" rx="7.5" ry="8.0"/>
<ellipse cx="409.13" cy="2202.50" rx="7.5" ry="8.0"/>
<ellipse cx="422.58" cy="2202.50" rx="7.5" ry="8.0"/>
<ellipse cx="436.03" cy="2202.50" rx="7.5" ry="8.0"/>
<ellipse cx="449.48" cy="2202.50" rx="7.5" ry="8.0"/>
<ellipse cx="462.93" cy="2202.50" rx="7.5" ry="8.0"/>
<ellipse cx="476.38" cy="2202.50" rx="7.5" ry="8.0"/>
<ellipse cx="489.83" cy="2202.50" rx="7.5" ry="8.0"/>
<ellipse cx="503.28" cy="2202.50" rx="7.5" ry="8.0"/>
<ellipse cx="516.73" cy="2202.50" rx="7.5" ry="8.0"/>
<ellipse cx="530.18" cy="2202.50" rx="7.5" ry="8.0"/>
<ellipse cx="543.63" cy="2202.50" rx="7.5" ry="8.0"/>
<ellipse cx="557.08" cy="2202.50" rx="7.5" ry="8.0"/>
<ellipse cx="570.53" cy="2202.50" rx="7.5" ry="8.0"/>
<ellipse cx="583.98" cy="2202.50" rx="7.5" ry="8.0"/>
<ellipse cx="597.43" cy="2202.50" rx="7.5" ry="8.0"/>
<ellipse cx="610.88" cy="2202.50" rx="7.5" ry="8.0"/>
<ellipse cx="624.33" cy="2202.50" rx="7.5" ry="8.0"/>
<ellipse cx="637.78" cy="2202.50" rx="7.5" ry="8.0"/>
<ellipse cx="651.23" cy="2202.50" rx="7.5" ry="8.0"/>
<ellipse cx="664.68" cy="2199.51" rx="7.5" ry="8.0"/>
<ellipse cx="678.13" cy="2197.33" rx="7.5" ry="8.0"/>
<ellipse cx="691.58" cy="2196.73" rx="7.5" ry="8.0"/>
<ellipse cx="705.03" cy="2194.84" rx="7.5" ry="8.0"/>
<ellipse cx="718.48" cy="2192.15" rx="7.5" ry="8.0"/>
<ellipse cx="731.93" cy="2189.57" rx="7.5" ry="8.0"/>
<ellipse cx="745.38" cy="2187.87" rx="7.5" ry="8.0"/>
<ellipse cx="758.83" cy="2185.29" rx="7.5" ry="8.0"/>
<ellipse cx="772.28" cy="2182.60" rx="7.5" ry="8.0"/>
<ellipse cx="785.73" cy="2179.81" rx="7.5" ry="8.0"/>
<ellipse cx="799.18" cy="2174.94" rx="7.5" ry="8.0"/>
<ellipse cx="812.63" cy="2169.86" rx="7.5" ry="8.0"/>
<ellipse cx="826.08" cy="2163.30" rx="7.5" ry="8.0"/>
<ellipse cx="839.53" cy="2154.54" rx="7.5" ry="8.0"/>
<ellipse cx="852.98" cy="2146.78" rx="7.5" ry="8.0"/>
<ellipse cx="866.43" cy="2136.93" rx="7.5" ry="8.0"/>
<ellipse cx="879.88" cy="2124.29" rx="7.5" ry="8.0"/>
<ellipse cx="893.33" cy="2109.97" rx="7.5" ry="8.0"/>
<ellipse cx="906.78" cy="2095.54" rx="7.5" ry="8.0"/>
<ellipse cx="920.23" cy="2078.82" rx="7.5" ry="8.0"/>
<ellipse cx="933.68" cy="2059.92" rx="7.5" ry="8.0"/>
<ellipse cx="947.13" cy="2039.12" rx="7.5" ry="8.0"/>
<ellipse cx="960.58" cy="2015.64" rx="7.5" ry="8.0"/>
<ellipse cx="974.03" cy="1989.67" rx="7.5" ry="8.0"/>
<ellipse cx="987.48" cy="1961.11" rx="7.5" ry="8.0"/>
<ellipse cx="1000.93" cy="1929.17" rx="7.5" ry="8.0"/>
<ellipse cx="1014.38" cy="1893.25" rx="7.5" ry="8.0"/>
<ellipse cx="1027.83" cy="1853.45" rx="7.5" ry="8.0"/>
<ellipse cx="1041.28" cy="1809.28" rx="7.5" ry="8.0"/>
<ellipse cx="1054.73" cy="1761.81" rx="7.5" ry="8.0"/>
<ellipse cx="1068.18" cy="1710.47" rx="7.5" ry="8.0"/>
<ellipse cx="1081.63" cy="1656.24" rx="7.5" ry="8.0"/>
<ellipse cx="1095.08" cy="1600.13" rx="7.5" ry="8.0"/>
<ellipse cx="1108.53" cy="1543.01" rx="7.5" ry="8.0"/>
<ellipse cx="1121.98" cy="1486.80" rx="7.5" ry="8.0"/>
<ellipse cx="1135.43" cy="1432.67" rx="7.5" ry="8.0"/>
<ellipse cx="1148.88" cy="1383.32" rx="7.5" ry="8.0"/>
<ellipse cx="1162.33" cy="1339.14" rx="7.5" ry="8.0"/>
<ellipse cx="1175.78" cy="1301.33" rx="7.5" ry="8.0"/>
<ellipse cx="1189.23" cy="1269.99" rx="7.5" ry="8.0"/>
<ellipse cx="1202.68" cy="1245.81" rx="7.5" ry="8.0"/>
<ellipse cx="1216.13" cy="1228.59" rx="7.5" ry="8.0"/>
<ellipse cx="1229.58" cy="1218.05" rx="7.5" ry="8.0"/>
<ellipse cx="1243.03" cy="1212.18" rx="7.5" ry="8.0"/>
<ellipse cx="1256.48" cy="1208.99" rx="7.5" ry="8.0"/>
<ellipse cx="1269.93" cy="1207.50" rx="7.5" ry="8.0"/>
<ellipse cx="1283.38" cy="1207.50" rx="7.5" ry="8.0"/>
<ellipse cx="1296.83" cy="1207.50" rx="7.5" ry="8.0"/>
<ellipse cx="1310.28" cy="1207.50" rx="7.5" ry="8.0"/>
<ellipse cx="1323.73" cy="1207.50" rx="7.5" ry="8.0"/>
<ellipse cx="1337.18" cy="1207.50" rx="7.5" ry="8.0"/>
<ellipse cx="1350.63" cy="1207.50" rx="7.5" ry="8.0"/>
<ellipse cx="1364.08" cy="1207.50" rx="7.5" ry="8.0"/>
<ellipse cx="1377.53" cy="1207.50" rx="7.5" ry="8.0"/>
<ellipse cx="1390.98" cy="1207.50" rx="7.5" ry="8.0"/>
<ellipse cx="1404.43" cy="1207.50" rx="7.5" ry="8.0"/>
<ellipse cx="1417.88" cy="1207.50" rx="7.5" ry="8.0"/>
<ellipse cx="1431.33" cy="1207.50" rx="7.5" ry="8.0"/>
<ellipse cx="1444.78" cy="1207.50" rx="7.5" ry="8.0"/>
<ellipse cx="1458.23" cy="1207.50" rx="7.5" ry="8.0"/>
<ellipse cx="1471.68" cy="1207.50" rx="7.5" ry="8.0"/>
<ellipse cx="1485.13" cy="1207.50" rx="7.5" ry="8.0"/>
<ellipse cx="1498.58" cy="1207.50" rx="7.5" ry="8.0"/>
<ellipse cx="1512.03" cy="1207.50" rx="7.5" ry="8.0"/>
<ellipse cx="1525.48" cy="1207.50" rx="7.5" ry="8.0"/>
<ellipse cx="1538.93" cy="1207.50" rx="7.5" ry="8.0"/>
<ellipse cx="1552.38" cy="1207.50" rx="7.5" ry="8.0"/>
<ellipse cx="1565.83" cy="1207.50" rx="7.5" ry="8.0"/>
<ellipse cx="1579.28" cy="1207.50" rx="7.5" ry="8.0"/>
<ellipse cx="1592.73" cy="1207.50" rx="7.5" ry="8.0"/>
<ellipse cx="1606.18" cy="1207.50" rx="7.5" ry="8.0"/>
</g>
<g fill="#ff0000">
<path d="M252.18 2211.75L261.18 2193.25L270.18 2211.75Z"/>
<path d="M265.63 2211.75L274.63 2193.25L283.63 2211.75Z"/>
<path d="M279.08 2211.75L288.08 2193.25L297.08 2211.75Z"/>
<path d="M292.53 2211.75L301.53 2193.25L310.53 2211.75Z"/>
<path d="M305.98 2211.75L314.98 2193.25L323.98 2211.75Z"/>
<path d="M319.43 2211.75L328.43 2193.25L337.43 2211.75Z"/>
<path d="M332.88 2211.75L341.88 2193.25L350.88 2211.75Z"/>
<path d="M346.33 2211.75L355.33 2193.25L364.33 2211.75Z"/>
<path d="M359.78 2211.75L368.78 2193.25L377.78 2211.75Z"/>
<path d="M373.23 2211.75L382.23 2193.25L391.23 2211.75Z"/>
<path d="M386.68 2211.75L395.68 2193.25L404.68 2211.75Z"/>
<path d="M400.13 2211.75L409.13 2193.25L418.13 2211.75Z"/>
<path d="M413.58 2211.75L422.58 2193.25L431.58 2211.75Z"/>
<path d="M427.03 2211.75L436.03 2193.25L445.03 2211.75Z"/>
<path d="M440.48 2211.75L449.48 2193.25L458.48 2211.75Z"/>
<path d="M453.93 2211.75L462.93 2193.25L471.93 2211.75Z"/>
<path d="M467.38 2211.75L476.38 2193.25L485.38 2211.75Z"/>
<path d="M480.83 2211.75L489.83 2193.25L498.83 2211.75Z"/>
<path d="M494.28 2211.75L503.28 2193.25L512.28 2211.75Z"/>
<path d="M507.73 2211.75L516.73 2193.25L525.73 2211.75Z"/>
<path d="M521.18 2211.75L530.18 2193.25L539.18 2211.75Z"/>
<path d="M534.63 2211.75L543.63 2193.25L552.63 2211.75Z"/>
<path d="M548.08 2211.75L557.08 2193.25L566.08 2211.75Z"/>
<path d="M561.53 2211.75L570.53 2193.25L579.53 2211.75Z"/>
<path d="M574.98 2211.75L583.98 2193.25L592.98 2211.75Z"/>
<path d="M588.43 2211.75L597.43 2193.25L606.43 2211.75Z"/>
<path d="M601.88 2211.75L610.88 2193.25L619.88 2211.75Z"/>
<path d="M615.33 2211.75L624.33 2193.25L633.33 2211.75Z"/>
<path d="M628.78 2211.75L637.78 2193.25L646.78 2211.75Z"/>
<path d="M642.23 2211.75L651.23 2193.25L660.23 2211.75Z"/>
<path d="M655.68 2211.75L664.68 2193.25L673.68 2211.75Z"/>
<path d="M669.13 2211.75L678.13 2193.25L687.13 2211.75Z"/>
<path d="M682.58 2211.75L691.58 2193.25L700.58 2211.75Z"/>
<path d="M696.03 2211.75L705.03 2193.25L714.03 2211.75Z"/>
<path d="M709.48 2211.25L718.48 2192.75L727.48 2211.25Z"/>
<path d="M722.93 2210.26L731.93 2191.76L740.93 2210.26Z"/>
<path d="M736.38 2209.66L745.38 2191.16L754.38 2209.66Z"/>
<path d="M749.83 2209.16L758.83 2190.66L767.83 2209.16Z"/>
<path d="M763.28 2207.27L772.28 2188.77L781.28 2207.27Z"/>
<path d="M776.73 2204.39L785.73 2185.89L794.73 2204.39Z"/>
<path d="M790.18 2200.90L799.18 2182.40L808.18 2200.90Z"/>
<path d="M803.63 2195.73L812.63 2177.23L821.63 2195.73Z"/>
<path d="M817.08 2187.17L826.08 2168.67L835.08 2187.17Z"/>
<path d="M830.53 2178.42L839.53 2159.92L848.53 2178.42Z"/>
<path d="M843.98 2160.71L852.98 2142.21L861.98 2160.71Z"/>
<path d="M857.43 2141.11L866.43 2122.61L875.43 2141.11Z"/>
<path d="M870.88 2114.44L879.88 2095.94L888.88 2114.44Z"/>
<path d="M884.33 2083.30L893.33 2064.80L902.33 2083.30Z"/>
<path d="M897.78 2045.98L906.78 2027.48L915.78 2045.98Z"/>
<path d="M911.23 2000.11L920.23 1981.61L929.23 2000.11Z"/>
<path d="M924.68 1950.76L933.68 1932.26L942.68 1950.76Z"/>
<path d="M938.13 1893.95L947.13 1875.45L956.13 1893.95Z"/>
<path d="M951.58 1834.55L960.58 1816.05L969.58 1834.55Z"/>
<path d="M965.03 1770.47L974.03 1751.97L983.03 1770.47Z"/>
<path d="M978.48 1706.39L987.48 1687.89L996.48 1706.39Z"/>
<path d="M991.93 1642.21L1000.93 1623.71L1009.93 1642.21Z"/>
<path d="M1005.38 1579.93L1014.38 1561.43L1023.38 1579.93Z"/>
<path d="M1018.83 1520.42L1027.83 1501.92L1036.83 1520.42Z"/>
<path d="M1032.28 1465.80L1041.28 1447.30L1050.28 1465.80Z"/>
<path d="M1045.73 1416.35L1054.73 1397.85L1063.73 1416.35Z"/>
<path d="M1059.18 1372.17L1068.18 1353.67L1077.18 1372.17Z"/>
<path d="M1072.63 1334.86L1081.63 1316.36L1090.63 1334.86Z"/>
<path d="M1086.08 1302.72L1095.08 1284.22L1104.08 1302.72Z"/>
<path d="M1099.53 1276.85L1108.53 1258.35L1117.53 1276.85Z"/>
<path d="M1112.98 1256.95L1121.98 1238.45L1130.98 1256.95Z"/>
<path d="M1126.43 1241.33L1135.43 1222.83L1144.43 1241.33Z"/>
<path d="M1139.88 1230.98L1148.88 1212.48L1157.88 1230.98Z"/>
<path d="M1153.33 1223.72L1162.33 1205.22L1171.33 1223.72Z"/>
<path d="M1166.78 1220.23L1175.78 1201.73L1184.78 1220.23Z"/>
<path d="M1180.23 1217.94L1189.23 1199.44L1198.23 1217.94Z"/>
<path d="M1193.68 1216.75L1202.68 1198.25L1211.68 1216.75Z"/>
<path d="M1207.13 1216.75L1216.13 1198.25L1225.13 1216.75Z"/>
<path d="M1220.58 1216.75L1229.58 1198.25L1238.58 1216.75Z"/>
<path d="M1234.03 1216.75L1243.03 1198.25L1252.03 1216.75Z"/>
<path d="M1247.48 1216.75L1256.48 1198.25L1265.48 1216.75Z"/>
<path d="M1260.93 1216.75L1269.93 1198.25L1278.93 1216.75Z"/>
<path d="M1274.38 1216.75L1283.38 1198.25L1292.38 1216.75Z"/>
<path d="M1287.83 1216.75L1296.83 1198.25L1305.83 1216.75Z"/>
<path d="M1301.28 1216.75L1310.28 1198.25L1319.28 1216.75Z"/>
<path d="M1314.73 1216.75L1323.73 1198.25L1332.73 1216.75Z"/>
<path d="M1328.18 1216.75L1337.18 1198.25L1346.18 1216.75Z"/>
<path d="M1341.63 1216.75L1350.63 1198.25L1359.63 1216.75Z"/>
<path d="M1355.08 1216.75L1364.08 1198.25L1373.08 1216.75Z"/>
<path d="M1368.53 1216.75L1377.53 1198.25L1386.53 1216.75Z"/>
<path d="M1381.98 1216.75L1390.98 1198.25L1399.98 1216.75Z"/>
<path d="M1395.43 1216.75L1404.43 1198.25L1413.43 1216.75Z"/>
<path d="M1408.88 1216.75L1417.88 1198.25L1426.88 1216.75Z"/>
<path d="M1422.33 1216.75L1431.33 1198.25L1440.33 1216.75Z"/>
<path d="M1435.78 1216.75L1444.78 1198.25L1453.78 1216.75Z"/>
<path d="M1449.23 1216.75L1458.23 1198.25L1467.23 1216.75Z"/>
<path d="M1516.48 1216.75L1525.48 1198.25L1534.48 1216.75Z"/>
<path d="M1529.93 1216.75L1538.93 1198.25L1547.93 1216.75Z"/>
<path d="M1543.38 1216.75L1552.38 1198.25L1561.38 1216.75Z"/>
<path d="M1556.83 1216.75L1565.83 1198.25L1574.83 1216.75Z"/>
<path d="M1570.28 1216.75L1579.28 1198.25L1588.28 1216.75Z"/>
<path d="M1583.73 1216.75L1592.73 1198.25L1601.73 1216.75Z"/>
<path d="M1597.18 1216.75L1606.18 1198.25L1615.18 1216.75Z"/>
</g>
<rect x="1627.80" y="1925.90" width="158.3" height="144.6" fill="#fff" stroke="#6a6a6a" stroke-width="3.2"/>
<ellipse cx="1663.90" cy="1962.60" rx="7.5" ry="8.0" fill="#0000ff"/>
<path d="M1654.90 2037.35L1663.90 2018.85L1672.90 2037.35Z" fill="#ff0000"/>
<g fill="#000" font-family="'Liberation Sans', Arial, sans-serif" stroke="#fff" stroke-width="0.25">
<g transform="translate(1682.80,1974.90) scale(0.882,1)">
<text x="0.00" text-anchor="start" font-size="43.5">G30</text>
</g>
<g transform="translate(1682.80,2040.10) scale(0.882,1)">
<text x="0.00" text-anchor="start" font-size="43.5">PS9</text>
</g>
</g>
</svg></body></html>
